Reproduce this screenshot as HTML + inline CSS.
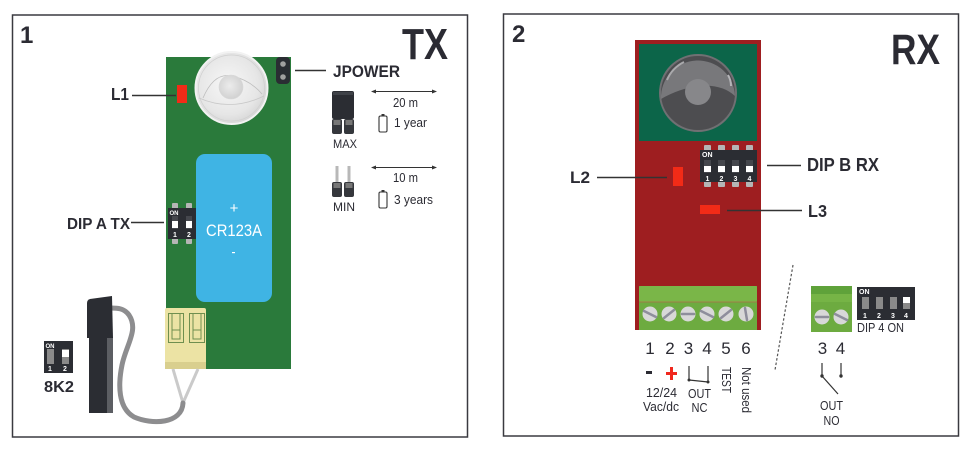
<!DOCTYPE html>
<html><head><meta charset="utf-8"><style>
html,body{margin:0;padding:0;background:#fff;}
svg{display:block}
text{font-family:"Liberation Sans",sans-serif;fill:#2b2b33}
.b{font-weight:bold}
.w{fill:#fff;font-weight:bold}
</style></head><body>
<svg width="974" height="454" viewBox="0 0 974 454" xmlns="http://www.w3.org/2000/svg">
<defs>
<radialGradient id="domeW" cx="0.45" cy="0.45" r="0.6">
 <stop offset="0" stop-color="#f7f7f7"/><stop offset="0.7" stop-color="#e6e6e6"/><stop offset="1" stop-color="#d2d2d2"/>
</radialGradient>
<radialGradient id="domeIn" cx="0.45" cy="0.45" r="0.6">
 <stop offset="0" stop-color="#ececec"/><stop offset="1" stop-color="#cfcfcf"/>
</radialGradient>
</defs>

<!-- panels -->
<rect x="12.5" y="15" width="455" height="422" fill="none" stroke="#3a3a40" stroke-width="1.5"/>
<rect x="503.5" y="14" width="455" height="422" fill="none" stroke="#3a3a40" stroke-width="1.5"/>
<text x="20" y="43" class="b" font-size="24">1</text>
<text x="512" y="42" class="b" font-size="24">2</text>
<text x="402" y="59" class="b" font-size="44" textLength="46" lengthAdjust="spacingAndGlyphs">TX</text>
<text x="891" y="64" class="b" font-size="43" textLength="49" lengthAdjust="spacingAndGlyphs">RX</text>

<!-- ============ TX ============ -->
<rect x="166" y="57" width="125" height="312" fill="#2a7a3b"/>
<!-- battery -->
<rect x="196" y="154" width="76" height="148" rx="9" fill="#3fb4e4"/>
<text x="234" y="213" text-anchor="middle" font-size="15" fill="#fff" style="fill:#fff">+</text>
<text x="206" y="236" font-size="17" style="fill:#fff" textLength="56" lengthAdjust="spacingAndGlyphs">CR123A</text>
<rect x="232" y="252" width="3" height="1.2" fill="#fff"/>
<!-- dome -->
<circle cx="231.5" cy="88" r="36" fill="url(#domeW)" stroke="#f2f2f2" stroke-width="2"/>
<circle cx="231.5" cy="88" r="33" fill="none" stroke="#cfcfcf" stroke-width="0.7"/>
<path d="M203,98 Q214,72 232,76 Q250,80 262,94" fill="none" stroke="#bdbdbd" stroke-width="0.8"/>
<path d="M199,98 Q231,112 264,96" fill="none" stroke="#c8c8c8" stroke-width="0.8"/>
<circle cx="231" cy="87" r="12" fill="url(#domeIn)" stroke="#d8d8d8" stroke-width="0.6"/>
<!-- JPOWER jumper -->
<rect x="276" y="57" width="14" height="27" rx="4" fill="#2a2d33"/>
<circle cx="283" cy="64" r="2.8" fill="#a0a0a0"/>
<circle cx="283" cy="77" r="2.8" fill="#a0a0a0"/>
<line x1="295" y1="70.5" x2="326" y2="70.5" stroke="#333" stroke-width="1.5"/>
<text x="333" y="77" class="b" font-size="17" textLength="67" lengthAdjust="spacingAndGlyphs">JPOWER</text>
<!-- L1 -->
<rect x="177" y="85" width="10" height="18" fill="#f22b17"/>
<line x1="132" y1="95.5" x2="176" y2="95.5" stroke="#333" stroke-width="1.5"/>
<text x="111" y="100" class="b" font-size="17.5" textLength="18" lengthAdjust="spacingAndGlyphs">L1</text>

<!-- MAX jumper -->
<rect x="332" y="91" width="22" height="28" rx="2" fill="#2b2d33"/>
<rect x="333" y="92" width="20" height="3" fill="#3f4248"/>
<rect x="332" y="119" width="10" height="15" rx="2" fill="#35373c"/>
<rect x="344" y="119" width="10" height="15" rx="2" fill="#35373c"/>
<rect x="333.5" y="120" width="7" height="5" fill="#777"/>
<rect x="345.5" y="120" width="7" height="5" fill="#777"/>
<text x="333" y="148" font-size="12" textLength="24" lengthAdjust="spacingAndGlyphs">MAX</text>
<!-- MIN jumper -->
<line x1="337" y1="166" x2="337" y2="184" stroke="#b8b8b8" stroke-width="3"/>
<line x1="349" y1="166" x2="349" y2="184" stroke="#b8b8b8" stroke-width="3"/>
<rect x="332" y="182" width="10" height="15" rx="2" fill="#35373c"/>
<rect x="344" y="182" width="10" height="15" rx="2" fill="#35373c"/>
<rect x="333.5" y="183" width="7" height="5" fill="#777"/>
<rect x="345.5" y="183" width="7" height="5" fill="#777"/>
<text x="333" y="211" font-size="12" textLength="22" lengthAdjust="spacingAndGlyphs">MIN</text>

<!-- 20 m -->
<line x1="373" y1="91.5" x2="435" y2="91.5" stroke="#333" stroke-width="1"/>
<polygon points="371,91.5 376,89.5 376,93.5" fill="#333"/>
<polygon points="437,91.5 432,89.5 432,93.5" fill="#333"/>
<text x="405.5" y="107" text-anchor="middle" font-size="13" textLength="25" lengthAdjust="spacingAndGlyphs">20 m</text>
<rect x="379" y="116" width="8" height="16" rx="1.5" fill="none" stroke="#333" stroke-width="1.1"/>
<rect x="381.5" y="114" width="3" height="2" fill="#333"/>
<text x="394" y="127" font-size="13" textLength="33" lengthAdjust="spacingAndGlyphs">1 year</text>
<!-- 10 m -->
<line x1="373" y1="167.5" x2="435" y2="167.5" stroke="#333" stroke-width="1"/>
<polygon points="371,167.5 376,165.5 376,169.5" fill="#333"/>
<polygon points="437,167.5 432,165.5 432,169.5" fill="#333"/>
<text x="405.5" y="182" text-anchor="middle" font-size="13" textLength="25" lengthAdjust="spacingAndGlyphs">10 m</text>
<rect x="379" y="192" width="8" height="16" rx="1.5" fill="none" stroke="#333" stroke-width="1.1"/>
<rect x="381.5" y="190" width="3" height="2" fill="#333"/>
<text x="394" y="204" font-size="13" textLength="39" lengthAdjust="spacingAndGlyphs">3 years</text>

<!-- DIP A TX -->
<rect x="172" y="203" width="6" height="6" rx="1" fill="#b5b5b5"/>
<rect x="186" y="203" width="6" height="6" rx="1" fill="#b5b5b5"/>
<rect x="172" y="238" width="6" height="6" rx="1" fill="#b5b5b5"/>
<rect x="186" y="238" width="6" height="6" rx="1" fill="#b5b5b5"/>
<rect x="168" y="208" width="28" height="31" fill="#2b2d33"/>
<text x="169.5" y="215" class="w" font-size="6">ON</text>
<rect x="172" y="216" width="6" height="13" fill="#45474d"/>
<rect x="186" y="216" width="6" height="13" fill="#45474d"/>
<rect x="172" y="221" width="6" height="7" fill="#fff"/>
<rect x="186" y="221" width="6" height="7" fill="#fff"/>
<text x="173" y="237" class="w" font-size="7">1</text>
<text x="187" y="237" class="w" font-size="7">2</text>
<line x1="131" y1="222.5" x2="164" y2="222.5" stroke="#333" stroke-width="1.5"/>
<text x="67" y="229" class="b" font-size="16" textLength="63" lengthAdjust="spacingAndGlyphs">DIP A TX</text>

<!-- terminal yellow -->
<rect x="165" y="308" width="41" height="61" rx="2" fill="#ece3a4"/>
<rect x="165" y="362" width="41" height="7" fill="#d9cf8e"/>
<g fill="none" stroke="#6f8f4f" stroke-width="1">
 <rect x="168.5" y="313.5" width="15" height="29"/>
 <line x1="172" y1="313.5" x2="172" y2="330"/><line x1="180" y1="313.5" x2="180" y2="330"/>
 <rect x="172" y="330" width="8" height="9"/>
 <rect x="189.5" y="313.5" width="15" height="29"/>
 <line x1="193" y1="313.5" x2="193" y2="330"/><line x1="201" y1="313.5" x2="201" y2="330"/>
 <rect x="193" y="330" width="8" height="9"/>
</g>
<!-- wires -->
<path d="M173,369 L183,403 M198,369 L183,403" stroke="#cacaca" stroke-width="3" fill="none"/>
<path d="M183,403 C182,424 152,425 134,417 C118,408 118,385 122,365 C126,345 139,330 129,315 C124,308 117,308 111,308" stroke="#8d8d8f" stroke-width="5" fill="none" stroke-linecap="round"/>
<!-- sensor -->
<path d="M87,303 Q87,300 90,299 L112,296 L113,338 L87,338 Z" fill="#2b2d33"/>
<rect x="89" y="338" width="24" height="75" fill="#2b2d33"/>
<rect x="107" y="338" width="6" height="75" fill="#5c5e63"/>

<!-- 8K2 dip -->
<rect x="44" y="341" width="29" height="32" fill="#2b2d33"/>
<text x="45.5" y="348" class="w" font-size="6">ON</text>
<rect x="47" y="349" width="7" height="15" fill="#8a8a8a"/>
<rect x="62" y="349" width="7" height="15" fill="#8a8a8a"/>
<rect x="62" y="350" width="7" height="7" fill="#fff"/>
<text x="48" y="371" class="w" font-size="7">1</text>
<text x="63" y="371" class="w" font-size="7">2</text>
<text x="44" y="392" class="b" font-size="16" textLength="30" lengthAdjust="spacingAndGlyphs">8K2</text>

<!-- ============ RX ============ -->
<rect x="635" y="40" width="126" height="290" fill="#9e1e20"/>
<rect x="639" y="44" width="118" height="97" fill="#0c6549"/>
<circle cx="698" cy="93" r="38" fill="#4d4d50" stroke="#707073" stroke-width="2"/>
<path d="M661,99 A37,37 0 0 1 735,96 Q722,84 700,86 Q680,88 661,99 Z" fill="#78787b"/>
<circle cx="698" cy="92" r="13" fill="#87878a"/>
<path d="M667,80 Q672,68 684,62" stroke="#a9a9ac" stroke-width="2" fill="none"/>
<path d="M728,75 Q731,80 731,86" stroke="#b5b5b8" stroke-width="2" fill="none"/>

<!-- DIP B RX -->
<g fill="#b5b5b5">
 <rect x="704" y="145" width="7" height="6" rx="1"/><rect x="718" y="145" width="7" height="6" rx="1"/>
 <rect x="732" y="145" width="7" height="6" rx="1"/><rect x="746" y="145" width="7" height="6" rx="1"/>
 <rect x="704" y="181" width="7" height="6" rx="1"/><rect x="718" y="181" width="7" height="6" rx="1"/>
 <rect x="732" y="181" width="7" height="6" rx="1"/><rect x="746" y="181" width="7" height="6" rx="1"/>
</g>
<rect x="700" y="150" width="57" height="32" fill="#2b2d33"/>
<text x="702" y="157" class="w" font-size="7">ON</text>
<g fill="#45474d">
 <rect x="704" y="160" width="7" height="13"/><rect x="718" y="160" width="7" height="13"/>
 <rect x="732" y="160" width="7" height="13"/><rect x="746" y="160" width="7" height="13"/>
</g>
<g fill="#fff">
 <rect x="704" y="166" width="7" height="6"/><rect x="718" y="166" width="7" height="6"/>
 <rect x="732" y="166" width="7" height="6"/><rect x="746" y="166" width="7" height="6"/>
</g>
<text x="705.5" y="181" class="w" font-size="7">1</text>
<text x="719.5" y="181" class="w" font-size="7">2</text>
<text x="733.5" y="181" class="w" font-size="7">3</text>
<text x="747.5" y="181" class="w" font-size="7">4</text>
<line x1="767" y1="165.5" x2="801" y2="165.5" stroke="#333" stroke-width="1.5"/>
<text x="807" y="171" class="b" font-size="18" textLength="72" lengthAdjust="spacingAndGlyphs">DIP B RX</text>

<!-- L2 -->
<rect x="673" y="167" width="10" height="19" fill="#f22b17"/>
<line x1="597" y1="177.5" x2="667" y2="177.5" stroke="#333" stroke-width="1.5"/>
<text x="570" y="183" class="b" font-size="17" textLength="20" lengthAdjust="spacingAndGlyphs">L2</text>
<!-- L3 -->
<rect x="700" y="205" width="20" height="9" fill="#f22b17"/>
<line x1="727" y1="210.5" x2="802" y2="210.5" stroke="#333" stroke-width="1.5"/>
<text x="808" y="217" class="b" font-size="17.5" textLength="19" lengthAdjust="spacingAndGlyphs">L3</text>

<!-- big terminal -->
<rect x="639" y="286" width="118" height="44" fill="#6dab40"/>
<rect x="639" y="286" width="118" height="16" rx="2" fill="#7ab648"/>
<line x1="639" y1="302" x2="757" y2="302" stroke="#b06a4a" stroke-width="0.7"/>
<g fill="#d8d8d8">
 <circle cx="650" cy="314" r="7.5"/><circle cx="669" cy="314" r="7.5"/><circle cx="688" cy="314" r="7.5"/>
 <circle cx="707" cy="314" r="7.5"/><circle cx="726" cy="314" r="7.5"/><circle cx="746" cy="314" r="7.5"/>
</g>
<g stroke="#8e8e9c" stroke-width="2.5" stroke-linecap="round">
 <line x1="644" y1="311" x2="656" y2="317"/>
 <line x1="664" y1="318" x2="674" y2="310"/>
 <line x1="682" y1="314" x2="694" y2="314"/>
 <line x1="701" y1="311" x2="713" y2="317"/>
 <line x1="721" y1="318" x2="731" y2="310"/>
 <line x1="745" y1="308" x2="747" y2="320"/>
</g>
<g font-size="17" text-anchor="middle">
 <text x="650" y="354">1</text><text x="670" y="354">2</text><text x="688.5" y="354">3</text>
 <text x="707" y="354">4</text><text x="726" y="354">5</text><text x="746" y="354">6</text>
</g>
<rect x="646" y="371" width="6" height="3" fill="#2b2b33"/>
<rect x="666" y="372" width="11" height="3" fill="#f0281e"/>
<rect x="670" y="367" width="3" height="13" fill="#f0281e"/>
<g stroke="#333" stroke-width="1.2" fill="none">
 <line x1="689" y1="366" x2="689" y2="380"/>
 <line x1="708" y1="366" x2="708" y2="382"/>
 <line x1="689" y1="380" x2="708" y2="382"/>
</g>
<circle cx="689" cy="380" r="1.5" fill="#333"/><circle cx="708" cy="382" r="1.5" fill="#333"/>
<text x="661.5" y="397" text-anchor="middle" font-size="13" textLength="31" lengthAdjust="spacingAndGlyphs">12/24</text>
<text x="661" y="411" text-anchor="middle" font-size="13" textLength="36" lengthAdjust="spacingAndGlyphs">Vac/dc</text>
<text x="699.5" y="398" text-anchor="middle" font-size="13" textLength="23" lengthAdjust="spacingAndGlyphs">OUT</text>
<text x="699.5" y="412" text-anchor="middle" font-size="13" textLength="16" lengthAdjust="spacingAndGlyphs">NC</text>
<text transform="translate(722,367) rotate(90)" font-size="13" textLength="26" lengthAdjust="spacingAndGlyphs">TEST</text>
<text transform="translate(742,367) rotate(90)" font-size="13" textLength="46" lengthAdjust="spacingAndGlyphs">Not used</text>

<!-- dashed divider -->
<line x1="793" y1="265" x2="775" y2="370" stroke="#555" stroke-width="1.2" stroke-dasharray="2.5,2"/>

<!-- small terminal -->
<rect x="811" y="286" width="41" height="46" fill="#6dab40"/>
<rect x="811" y="286" width="41" height="8" fill="#5fa23a"/>
<rect x="811" y="294" width="41" height="8" fill="#76b446"/>
<circle cx="822" cy="317" r="7.5" fill="#d8d8d8"/><circle cx="841" cy="317" r="7.5" fill="#d8d8d8"/>
<line x1="816" y1="317" x2="828" y2="317" stroke="#8e8e9c" stroke-width="2.5" stroke-linecap="round"/>
<line x1="835" y1="314" x2="847" y2="320" stroke="#8e8e9c" stroke-width="2.5" stroke-linecap="round"/>

<!-- DIP 4 ON -->
<rect x="857" y="287" width="58" height="33" fill="#2b2d33"/>
<text x="859" y="294" class="w" font-size="7">ON</text>
<g fill="#8a8a8a">
 <rect x="862" y="297" width="7" height="12"/><rect x="876" y="297" width="7" height="12"/>
 <rect x="890" y="297" width="7" height="12"/><rect x="903" y="297" width="7" height="12"/>
</g>
<rect x="903" y="297" width="7" height="6" fill="#fff"/>
<text x="863" y="318" class="w" font-size="7">1</text>
<text x="877" y="318" class="w" font-size="7">2</text>
<text x="891" y="318" class="w" font-size="7">3</text>
<text x="904" y="318" class="w" font-size="7">4</text>
<text x="857" y="332" font-size="13" textLength="47" lengthAdjust="spacingAndGlyphs">DIP 4 ON</text>

<text x="822.5" y="354" text-anchor="middle" font-size="17">3</text>
<text x="840.5" y="354" text-anchor="middle" font-size="17">4</text>
<g stroke="#333" stroke-width="1.2">
 <line x1="822" y1="363" x2="822" y2="376"/>
 <line x1="822" y1="376" x2="838" y2="394"/>
 <line x1="841" y1="363" x2="841" y2="376"/>
</g>
<circle cx="822" cy="376" r="1.7" fill="#333"/><circle cx="841" cy="376" r="1.7" fill="#333"/>
<text x="831.5" y="410" text-anchor="middle" font-size="13" textLength="23" lengthAdjust="spacingAndGlyphs">OUT</text>
<text x="831.5" y="425" text-anchor="middle" font-size="13" textLength="16" lengthAdjust="spacingAndGlyphs">NO</text>
</svg>
</body></html>
